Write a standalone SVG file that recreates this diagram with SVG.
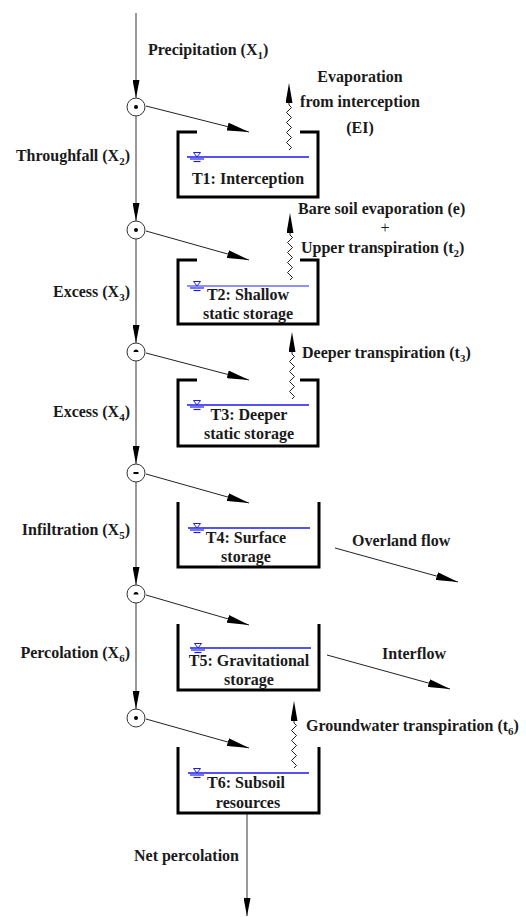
<svg xmlns="http://www.w3.org/2000/svg" width="526" height="917" viewBox="0 0 526 917">
<style>
text{font-family:"Liberation Serif","Times New Roman",serif;font-weight:bold;font-size:16px;fill:#1a1a1a}
.c{text-anchor:middle}
.e{text-anchor:end}
.main{stroke:#777;stroke-width:1.5;fill:none}
.flow{stroke:#222;stroke-width:1;fill:none}
.box{stroke:#000;stroke-width:3;fill:none;stroke-linejoin:miter}
.wl{stroke:#1a1aee;stroke-width:1.3}
.node{fill:#fff;stroke:#333;stroke-width:1}
</style>
<defs>
<marker id="ah" viewBox="0 0 22 8" markerWidth="22" markerHeight="8" refX="22" refY="4" orient="auto" markerUnits="userSpaceOnUse"><path d="M0,0 L22,4 L0,8 z" fill="#000"/></marker>
<marker id="av" viewBox="0 0 18 7" markerWidth="18" markerHeight="7" refX="18" refY="3.5" orient="auto" markerUnits="userSpaceOnUse"><path d="M0,0 L18,3.5 L0,7 z" fill="#000"/></marker>
<marker id="aw" viewBox="0 0 20 7" markerWidth="20" markerHeight="7" refX="0" refY="3.5" orient="auto" markerUnits="userSpaceOnUse"><path d="M0,0 L20,3.5 L0,7 z" fill="#000"/></marker>
<path id="zig" d="M0,0 l2.5,-2.5 l-5,-5 l5,-5 l-5,-5 l5,-5 l-5,-5 l5,-5 l-5,-5 l5,-5 l-2.5,-2.5 l0,-2" fill="none" stroke="#222" stroke-width="1" marker-end="url(#aw)"/>
<g id="ws"><polygon points="-3.5,-4.5 3.5,-4.5 0,0" fill="#fff" stroke="#1a1aee" stroke-width="1"/><line x1="-7" y1="2" x2="7" y2="2" stroke="#1a1aee" stroke-width="1.2"/><line x1="-3.5" y1="4.5" x2="3.5" y2="4.5" stroke="#1a1aee" stroke-width="1.2"/></g>
</defs>

<g id="connectors">
<line class="main" x1="136" y1="13" x2="136" y2="98" marker-end="url(#av)"/>
<line class="main" x1="136" y1="116" x2="136" y2="221" marker-end="url(#av)"/>
<line class="main" x1="136" y1="239" x2="136" y2="343" marker-end="url(#av)"/>
<line class="main" x1="136" y1="361" x2="136" y2="464" marker-end="url(#av)"/>
<line class="main" x1="136" y1="482" x2="136" y2="585" marker-end="url(#av)"/>
<line class="main" x1="136" y1="603" x2="136" y2="709" marker-end="url(#av)"/>
<line class="flow" x1="146" y1="106" x2="249" y2="132" marker-end="url(#ah)"/>
<line class="flow" x1="146" y1="231" x2="249" y2="260" marker-end="url(#ah)"/>
<line class="flow" x1="146" y1="353" x2="249" y2="380" marker-end="url(#ah)"/>
<line class="flow" x1="146" y1="474" x2="249" y2="503" marker-end="url(#ah)"/>
<line class="flow" x1="146" y1="595" x2="249" y2="625" marker-end="url(#ah)"/>
<line class="flow" x1="146" y1="719" x2="249" y2="748" marker-end="url(#ah)"/>
<line class="flow" x1="335" y1="548" x2="458" y2="582" marker-end="url(#ah)"/>
<line class="flow" x1="327" y1="655" x2="450" y2="689" marker-end="url(#ah)"/>
<line class="main" x1="247" y1="814" x2="247" y2="916" marker-end="url(#av)"/>
<use href="#zig" x="289" y="150"/>
<use href="#zig" x="290" y="280"/>
<use href="#zig" x="292" y="399"/>
<use href="#zig" x="294" y="768"/>
</g>

<g id="n1"><circle class="node" cx="136" cy="107" r="9"/><circle cx="136" cy="107" r="2" fill="#000"/></g>
<g id="n2"><circle class="node" cx="136" cy="230" r="9"/><circle cx="136" cy="230" r="2" fill="#000"/></g>
<g id="n3"><circle class="node" cx="136" cy="352" r="9"/><path d="M133.5,352 a2.5,2.5 0 0 1 5,0 z" fill="#000"/></g>
<g id="n4"><circle class="node" cx="136" cy="473" r="9"/><rect x="133.5" y="472" width="5" height="2" fill="#000"/></g>
<g id="n5"><circle class="node" cx="136" cy="594" r="9"/><path d="M133.5,594.5 a2.5,2.5 0 0 1 5,0 z" fill="#000"/></g>
<g id="n6"><circle class="node" cx="136" cy="718" r="9"/><circle cx="136" cy="718" r="2" fill="#000"/></g>

<g id="T1">
<path class="box" d="M197,132 L178,132 L178,197 L318,197 L318,132 L300,132"/>
<line class="wl" x1="187" y1="157" x2="309" y2="157"/>
<use href="#ws" x="197" y="157"/>
<text class="c" x="248" y="184">T1: Interception</text>
</g>
<g id="T2">
<path class="box" d="M197,260 L178,260 L178,324 L318,324 L318,260 L300,260"/>
<line class="wl" x1="187" y1="286" x2="309" y2="286" style="stroke:#6a6aff"/>
<use href="#ws" x="197" y="286"/>
<text class="c" x="248" y="300">T2: Shallow</text>
<text class="c" x="248" y="319">static storage</text>
</g>
<g id="T3">
<path class="box" d="M197,380 L178,380 L178,446 L318,446 L318,380 L300,380"/>
<line class="wl" x1="187" y1="405" x2="309" y2="405"/>
<use href="#ws" x="197" y="405"/>
<text class="c" x="249" y="420">T3: Deeper</text>
<text class="c" x="249" y="439">static storage</text>
</g>
<g id="T4">
<path class="box" d="M178,502 L178,567 L319,567 L319,502"/>
<line class="wl" x1="188" y1="528" x2="310" y2="528"/>
<use href="#ws" x="197" y="528"/>
<text class="c" x="246" y="543">T4: Surface</text>
<text class="c" x="246" y="562">storage</text>
</g>
<g id="T5">
<path class="box" d="M178,624 L178,690 L319,690 L319,624"/>
<line class="wl" x1="190" y1="648" x2="311" y2="648"/>
<use href="#ws" x="198" y="648"/>
<text class="c" x="249" y="666">T5: Gravitational</text>
<text class="c" x="249" y="685">storage</text>
</g>
<g id="T6">
<path class="box" d="M178,747 L178,813 L319,813 L319,747"/>
<line class="wl" x1="188" y1="773" x2="309" y2="773"/>
<use href="#ws" x="197" y="773"/>
<text class="c" x="246" y="788">T6: Subsoil</text>
<text class="c" x="248" y="808">resources</text>
</g>

<g id="labels">
<text x="148" y="55">Precipitation (X<tspan font-size="11" dy="4">1</tspan><tspan dy="-4">)</tspan></text>
<text class="e" x="130" y="161">Throughfall (X<tspan font-size="11" dy="4">2</tspan><tspan dy="-4">)</tspan></text>
<text class="e" x="130" y="297">Excess (X<tspan font-size="11" dy="4">3</tspan><tspan dy="-4">)</tspan></text>
<text class="e" x="130" y="417">Excess (X<tspan font-size="11" dy="4">4</tspan><tspan dy="-4">)</tspan></text>
<text class="e" x="130" y="535">Infiltration (X<tspan font-size="11" dy="4">5</tspan><tspan dy="-4">)</tspan></text>
<text class="e" x="130" y="658">Percolation (X<tspan font-size="11" dy="4">6</tspan><tspan dy="-4">)</tspan></text>
<text class="e" x="239" y="861">Net percolation</text>
<text class="c" x="360" y="82">Evaporation</text>
<text class="c" x="360" y="107">from interception</text>
<text class="c" x="360" y="133">(EI)</text>
<text x="298" y="214">Bare soil evaporation (e)</text>
<text class="c" x="385" y="233" style="font-weight:normal">+</text>
<text x="301" y="253">Upper transpiration (t<tspan font-size="11" dy="4">2</tspan><tspan dy="-4">)</tspan></text>
<text x="302" y="358">Deeper transpiration (t<tspan font-size="11" dy="4">3</tspan><tspan dy="-4">)</tspan></text>
<text x="352" y="546">Overland flow</text>
<text x="382" y="659">Interflow</text>
<text x="306" y="731">Groundwater transpiration (t<tspan font-size="11" dy="4">6</tspan><tspan dy="-4">)</tspan></text>
</g>
</svg>
